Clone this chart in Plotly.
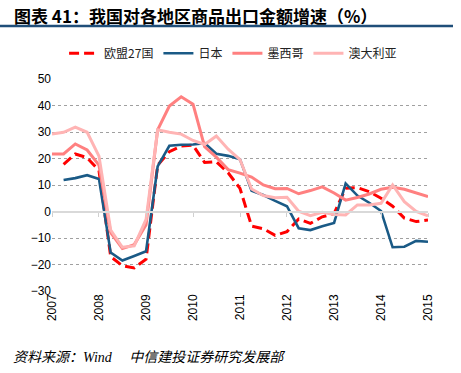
import plotly.graph_objects as go
import pandas as pd

quarters = pd.date_range("2007-01-01", periods=33, freq="QS")

eu27 = [None, 17.8, 21.7, 20.3, 15.5, -17.0, -20.5, -21.3, -18.0, 17.5, 22.6, 24.7, 25.0,
        18.5, 18.8, 14.6, 8.7, -5.5, -6.5, -9.0, -7.6, -2.8, -4.5, -2.0, -0.8,
        8.8, 9.0, 7.5, 5.0, 2.0, -2.5, -3.8, -3.2]
japan = [None, 11.9, 12.6, 13.7, 12.3, -15.5, -18.5, -16.8, -15.0, 17.0, 24.8, 25.2, 25.3,
         25.8, 21.8, 21.0, 19.7, 7.8, 6.2, 4.0, 2.0, -6.3, -7.0, -5.6, -4.3,
         10.6, 6.0, 3.3, 0.2, -13.5, -13.3, -11.1, -11.4]
mexico = [21.7, 21.7, 25.5, 23.2, 17.5, -8.0, -14.0, -12.5, -5.0, 30.8, 39.8, 43.3, 40.5,
          24.5, 20.5, 15.8, 14.5, 13.0, 10.0, 8.6, 8.7, 6.7, 7.9, 9.3, 7.0,
          4.3, 5.3, 6.6, 8.4, 9.1, 8.4, 7.1, 5.6]
australia = [29.2, 29.9, 31.8, 29.9, 20.9, -7.0, -13.5, -13.0, -3.0, 30.8, 29.9, 29.2, 26.8,
             25.3, 28.5, 23.5, 19.6, 8.5, 6.0, 5.2, 5.4, 0.1, -1.6, -0.3, -1.1,
             -1.3, 2.5, 2.5, 3.1, 10.0, 3.7, 0.0, -1.6]

year_ticks = ["2007", "2008", "2009", "2010", "2011", "2012", "2013", "2014", "2015"]
y_ticks = [-30, -20, -10, 0, 10, 20, 30, 40, 50]

names = ["欧盟27国", "日本", "墨西哥", "澳大利亚"]
colors = ["#ff0000", "#1a5a86", "#ff8080", "#ffb4b4"]

fig = go.Figure()
series = [eu27, japan, mexico, australia]
for name, vals, col in zip(names, series, colors):
    fig.add_trace(go.Scatter(
        x=quarters, y=vals, name=name, mode="lines",
        connectgaps=False,
        line=dict(color=col, width=3 if name != "日本" else 2.6,
                  dash="10px,5px" if name == "欧盟27国" else "solid"),
    ))

tickvals = [f"{y}-01-01" for y in year_ticks]

fig.update_layout(
    width=461, height=373,
    margin=dict(l=52, r=33, t=79, b=82, autoexpand=False),
    paper_bgcolor="white", plot_bgcolor="white",
    font=dict(family="Liberation Sans, Arial, Noto Sans CJK SC", size=12, color="black"),
    showlegend=True,
    legend=dict(
        orientation="h", xref="container", yref="container",
        x=0.139, y=0.896, xanchor="left", yanchor="top",
        font=dict(family="Noto Sans CJK SC", size=12, color="#222222"),
        itemwidth=30, tracegroupgap=0,
        bgcolor="rgba(0,0,0,0)",
    ),
    xaxis=dict(
        type="date", range=["2007-01-01", "2015-01-01"],
        tickvals=tickvals, ticktext=year_ticks, tickangle=-90,
        showgrid=False, showline=False, ticks="", zeroline=False,
        tickfont=dict(size=12, family="Liberation Sans, Arial"),
    ),
    xaxis2=dict(
        type="date", range=["2007-01-01", "2015-01-01"],
        overlaying="x", anchor="free", position=0.375, side="bottom",
        tickvals=tickvals, showticklabels=False,
        showgrid=False, showline=True, linecolor="#d9d9d9", linewidth=2,
        ticks="outside", ticklen=4, tickcolor="#d0d0d0", tickwidth=1,
        zeroline=False,
    ),
    yaxis=dict(
        range=[-30, 50], tickvals=y_ticks, showgrid=True,
        gridcolor="#a0a0a0", griddash="dot", gridwidth=1,
        zeroline=False, showline=False, ticks="",
        tickfont=dict(size=12, family="Liberation Sans, Arial"),
    ),
)

# invisible trace so xaxis2 is rendered
fig.add_trace(go.Scatter(x=[quarters[0]], y=[None], xaxis="x2", showlegend=False,
                         hoverinfo="skip", mode="lines"))

fig.add_annotation(
    text="<b>图表 41：我国对各地区商品出口金额增速（%）</b>",
    xref="paper", yref="paper", x=-40/376, y=1 + (79 - 15) / 212,
    xanchor="left", yanchor="middle", showarrow=False,
    font=dict(family="Noto Sans CJK SC", size=17, color="black"),
)
fig.add_shape(type="line", xref="paper", yref="paper",
              x0=-52/376, x1=(453 - 52)/376,
              y0=1 + (79 - 26)/212, y1=1 + (79 - 26)/212,
              line=dict(color="#1f4e79", width=2.5))
fig.add_annotation(
    text="<i>资料来源：Wind　 中信建投证券研究发展部</i>",
    xref="paper", yref="paper", x=(11 - 52)/376, y=-(357 - 291)/212,
    xanchor="left", yanchor="middle", showarrow=False,
    font=dict(family="Liberation Serif, Noto Sans CJK SC", size=14, color="black"),
)

fig.write_html("out.html", config={"displayModeBar": False},
               post_script="document.body.style.margin='0';")
